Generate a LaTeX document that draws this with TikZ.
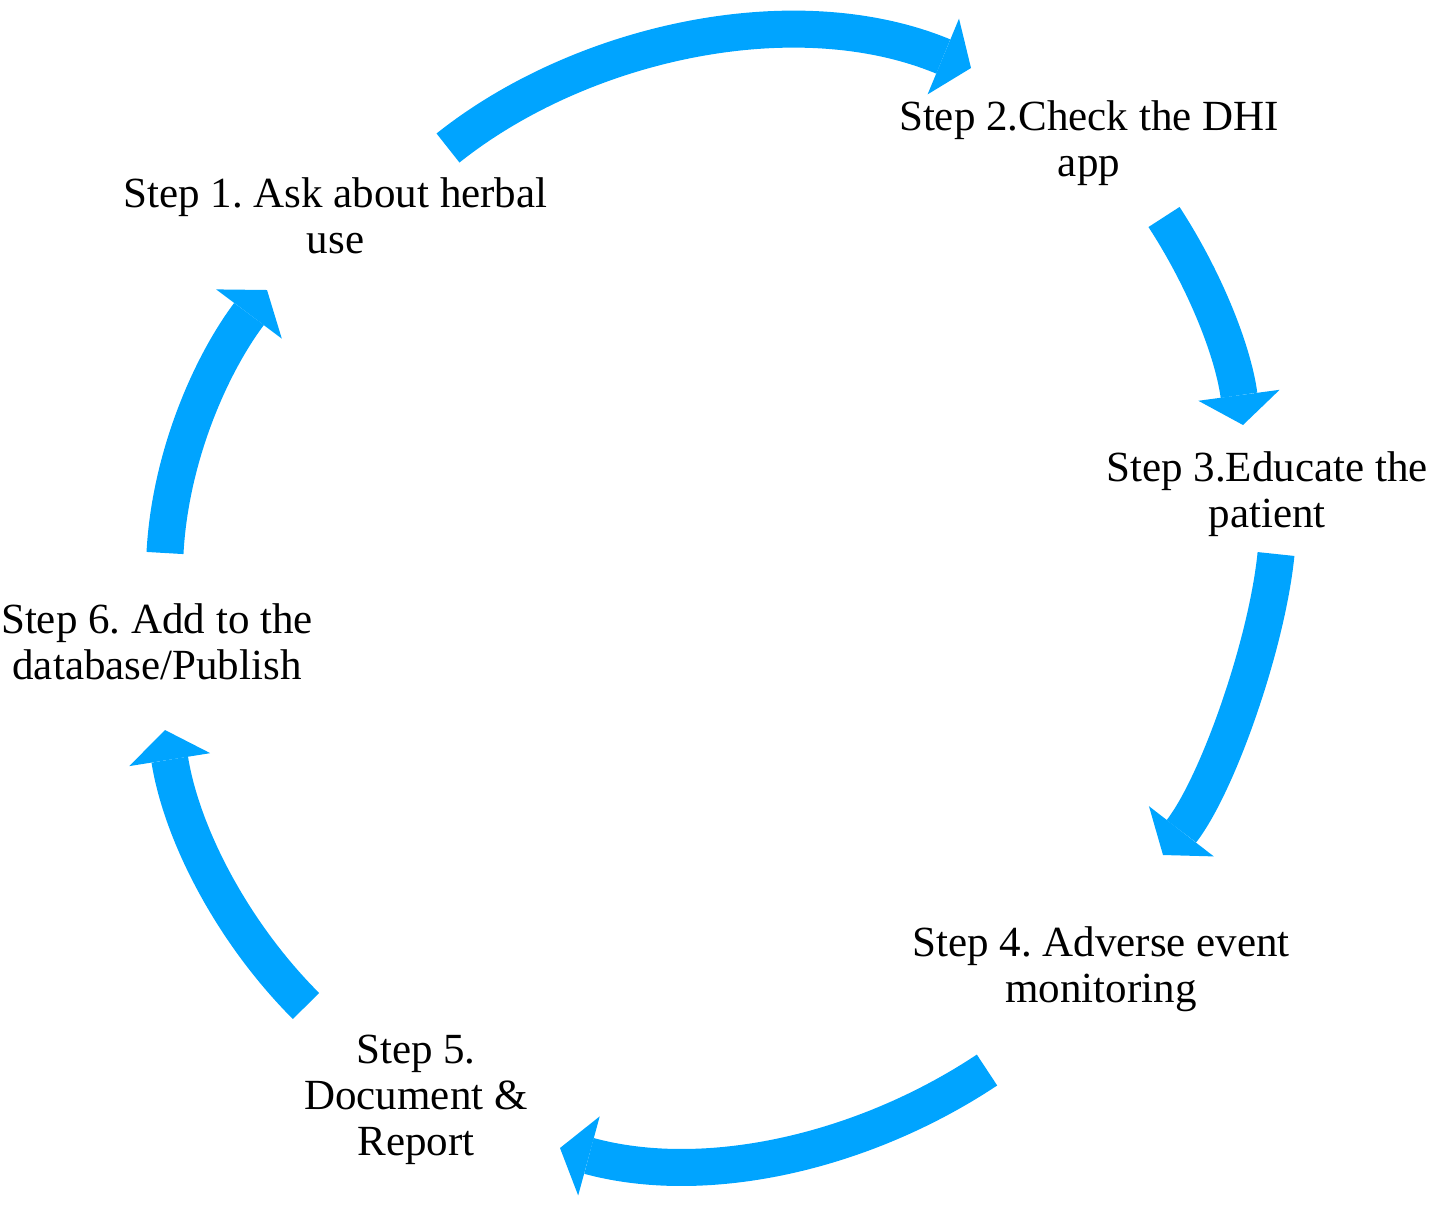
\documentclass[tikz,border=0pt]{standalone}
\usepackage{fontspec}
\setmainfont{Liberation Serif}
\usetikzlibrary{arrows.meta}
\definecolor{cycblue}{RGB}{0,164,255}
\frenchspacing
\begin{document}
\begin{tikzpicture}[x=0.5pt,y=-0.5pt,
  lbl/.style={font=\fontsize{21.5pt}{23pt}\selectfont, align=center, inner sep=0pt, anchor=north},
  cycarrow/.style={draw=cycblue, line width=18.5pt, line cap=butt,
    -{Triangle[length=15pt,width=41pt,line width=0pt]}}]
\useasboundingbox (0,0) rectangle (1429,1212);

% labels
\node[lbl] (s1) at (335.5,177) {Step 1. Ask about herbal\\use};
\node[lbl] (s2) at (1089,100) {Step 2.Check the DHI\\app};
\node[lbl] (s3) at (1267,451) {Step 3.Educate the\\patient};
\node[lbl] (s4) at (1101,926) {Step 4. Adverse event\\monitoring};
\node[lbl] (s5) at (416,1035) {Step 5.\\Document \&\\Report};
\node[lbl] (s6) at (157,603) {Step 6. Add to the\\database/Publish};

% arrow end points
\coordinate (a1s) at (448,148);  \coordinate (a1e) at (971,68);
\coordinate (a2s) at (1164,217); \coordinate (a2e) at (1243,425);
\coordinate (a3s) at (1276,554); \coordinate (a3e) at (1163,855);
\coordinate (a4s) at (987,1070); \coordinate (a4e) at (560,1148);
\coordinate (a5s) at (306,1006); \coordinate (a5e) at (165,730);
\coordinate (a6s) at (165,553);  \coordinate (a6e) at (267,290);

% arrows
\draw[cycarrow] (a1s) .. controls (581,42) and (795,-5) .. (a1e);
\draw[cycarrow] (a2s) .. controls (1205,280) and (1233,351) .. (a2e);
\draw[cycarrow] (a3s) .. controls (1267,644) and (1218,784) .. (a3e);
\draw[cycarrow] (a4s) .. controls (862,1153) and (705,1187.5) .. (a4e);
\draw[cycarrow] (a5s) .. controls (232,932) and (181.6,833.6) .. (a5e);
\draw[cycarrow] (a6s) .. controls (170,458) and (210,366) .. (a6e);
\end{tikzpicture}
\end{document}
